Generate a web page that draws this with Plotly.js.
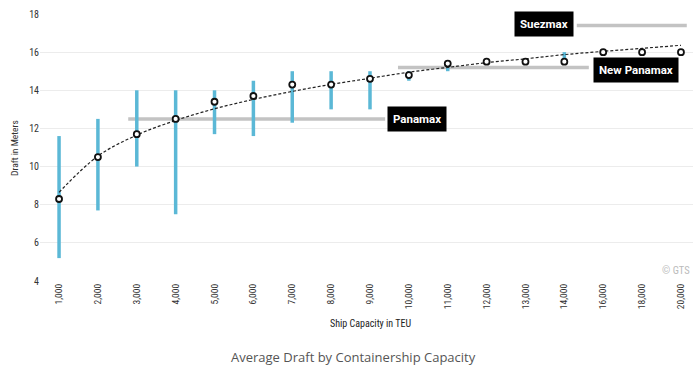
<!DOCTYPE html>
<html><head><meta charset="utf-8">
<script src="https://cdn.plot.ly/plotly-3.0.1.min.js"></script>
<style>html,body{margin:0;padding:0;background:#fff}#c{width:693px;height:367px}</style>
</head><body><div id="c"></div>
<script>
const categories = ["1,000","2,000","3,000","4,000","5,000","6,000","7,000","8,000","9,000","10,000","11,000","12,000","13,000","14,000","16,000","18,000","20,000"];
const avgDraft = [8.3,10.5,11.7,12.5,13.4,13.7,14.3,14.3,14.6,14.8,15.4,15.5,15.5,15.5,16.0,16.0,16.0];
const minDraft = [5.2,7.7,10.0,7.5,11.7,11.6,12.3,13.0,13.0,14.5,15.0,15.5,15.5,15.5,16.0,16.0,16.0];
const maxDraft = [11.6,12.5,14.0,14.0,14.0,14.5,15.0,15.0,15.0,15.0,15.5,15.5,15.5,16.0,16.0,16.0,16.0];
const trendDraft = [8.65,10.55,11.65,12.42,13.03,13.52,13.94,14.31,14.63,14.95,15.2,15.45,15.65,15.87,16.04,16.2,16.36];
const refNames = ["Panamax","New Panamax","Suezmax"];
const refDraft = [12.5,15.2,17.4];
const refStart = [1.78,8.72,13.32];
const refEnd = [8.39,13.63,16.15];

const xi = categories.map((c,i)=>i);
const narrow = "Liberation Sans Narrow, Arial Narrow, Roboto Condensed, Roboto, sans-serif";

const traces = [
  {x: xi, y: avgDraft, mode:'markers', marker:{size:1, opacity:0}, hoverinfo:'skip', showlegend:false,
   error_y:{type:'data', symmetric:false, array: maxDraft.map((v,i)=>v-avgDraft[i]), arrayminus: avgDraft.map((v,i)=>v-minDraft[i]), thickness:3.5, width:0, color:'#5bb8d6'}},
  {x: xi, y: trendDraft, mode:'lines', line:{color:'#222', width:1.2, dash:'3px,2px', shape:'spline'}, showlegend:false, hoverinfo:'skip'},
  {x: xi, y: avgDraft, mode:'markers', marker:{symbol:'circle', size:6, color:'#fff', line:{color:'#111', width:1.8}}, showlegend:false}
];

const shapes = refNames.map((n,i)=>({type:'line', xref:'x', yref:'y', x0:refStart[i], x1:refEnd[i], y0:refDraft[i], y1:refDraft[i], line:{color:'#c3c3c3', width:3.5}, layer:'below'}));

const labelFont = {family:"Roboto, sans-serif", size:11.5, color:'#fff'};
const annotations = [
  {x:refEnd[0]+0.05, y:refDraft[0], xref:'x', yref:'y', xanchor:'left', yanchor:'middle', text:'<b>'+refNames[0]+'</b>', showarrow:false, bgcolor:'#000', font:labelFont, borderpad:5},
  {x:refEnd[1]+0.1, y:refDraft[1]-0.12, xref:'x', yref:'y', xanchor:'left', yanchor:'middle', text:'<b>'+refNames[1]+'</b>', showarrow:false, bgcolor:'#000', font:labelFont, borderpad:5},
  {x:refStart[2]-0.08, y:refDraft[2]+0.05, xref:'x', yref:'y', xanchor:'right', yanchor:'middle', text:'<b>'+refNames[2]+'</b>', showarrow:false, bgcolor:'#000', font:labelFont, borderpad:5},
  {px:370, py:323, xanchor:'center', text:'Ship Capacity in TEU', showarrow:false, font:{family:narrow, size:10, color:'#222'}},
  {px:14, py:148, xanchor:'center', text:'Draft in Meters', textangle:-90, showarrow:false, font:{family:narrow, size:9.5, color:'#333'}},
  {px:353, py:357, xanchor:'center', text:'Average Draft by Containership Capacity', showarrow:false, font:{family:"Open Sans, sans-serif", size:13, color:'#555'}},
  {px:692, py:270, xanchor:'right', text:'© GTS', showarrow:false, font:{family:narrow, size:10.5, color:'#bbb'}}
];
// convert pixel-placed annotations to paper coords
const L=40, R=0, T=14, B=86, W=693, H=367;
annotations.forEach(a=>{ if(a.px!==undefined){ a.xref='paper'; a.yref='paper'; a.yanchor='middle'; a.x=(a.px-L)/(W-L-R); a.y=(H-B-a.py)/(H-T-B); delete a.px; delete a.py; }});

const layout = {
  width:W, height:H, margin:{l:L, r:R, t:T, b:B}, paper_bgcolor:'#fff', plot_bgcolor:'#fff',
  xaxis:{range:[-0.49,16.31], tickvals:xi, ticktext:categories, tickangle:-90, showgrid:false, zeroline:false, showline:false, ticks:'', tickfont:{family:narrow, size:9.5, color:'#333'}, fixedrange:true},
  yaxis:{range:[4,18], dtick:2, tick0:4, showgrid:true, gridcolor:'#ececec', gridwidth:1, zeroline:false, showline:false, ticks:'', tickfont:{family:narrow, size:10, color:'#333'}, fixedrange:true},
  shapes, annotations, showlegend:false
};
Plotly.newPlot('c', traces, layout, {displayModeBar:false, staticPlot:true});
</script></body></html>
